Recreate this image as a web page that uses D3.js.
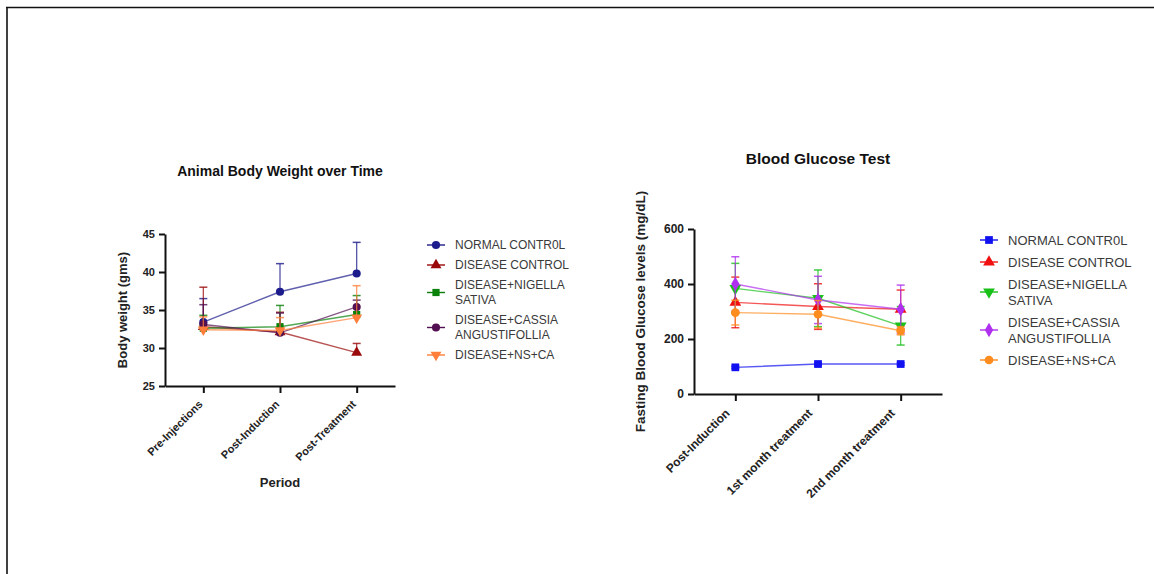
<!DOCTYPE html>
<html>
<head>
<meta charset="utf-8">
<script src="https://cdn.jsdelivr.net/npm/d3@7"></script>
<style>
  body { margin: 0; background: #fff; }
  svg text { font-family: Arial, "Liberation Sans", sans-serif; }
  .tick text { font-weight: bold; fill: #222; }
  .axis path, .axis line { stroke: #111; stroke-width: 2; }
  .legendText { fill: #3a3a3a; }
</style>
</head>
<body>
<svg id="chart" width="1154" height="574"></svg>
<script>
// ---- data ----
var groupNames = ["NORMAL CONTR0L", "DISEASE CONTROL", "DISEASE+NIGELLA SATIVA",
                  "DISEASE+CASSIA ANGUSTIFOLLIA", "DISEASE+NS+CA"];

// body weight chart
var bwPeriods = ["Pre-Injections", "Post-Induction", "Post-Treatment"];
var bwTicks = [25, 30, 35, 40, 45];
var bwMeans = [
  [33.4, 37.4, 39.8],
  [32.8, 32.1, 29.4],
  [32.6, 32.8, 34.4],
  [33.1, 32.0, 35.4],
  [32.4, 32.3, 34.0]
];
var bwErrors = [
  [3.1, 3.7, 4.1],
  [5.2, 2.6, 1.2],
  [1.7, 2.8, 2.5],
  [2.6, 2.6, 0.9],
  [1.7, 1.7, 4.2]
];

// blood glucose chart
var bgPeriods = ["Post-Induction", "1st month treatment", "2nd month treatment"];
var bgTicks = [0, 200, 400, 600];
var bgMeans = [
  [97, 109, 109],
  [333, 318, 308],
  [384, 348, 248],
  [400, 342, 308],
  [296, 290, 230]
];
var bgErrors = [
  [4, 4, 4],
  [92, 83, 70],
  [91, 103, 70],
  [99, 86, 88],
  [45, 50, 15]
];

// ---- styles ----
var bwColors = ["#1c1c8c", "#9b0a0a", "#0a820a", "#521052", "#ff7f3a"];
var bwShapes = ["circle", "triangle", "square", "circle", "down"];
var bgColors = ["#1010f0", "#f01010", "#18c018", "#b030f0", "#ff8c1e"];
var bgShapes = ["square", "triangle", "down", "diamond", "circle"];

var svg = d3.select("#chart");

// page border like the original screenshot
svg.append("line").attr("x1", 6).attr("x2", 1154).attr("y1", 7.5).attr("y2", 7.5)
  .attr("stroke", "#111").attr("stroke-width", 1.6);
svg.append("line").attr("x1", 7).attr("x2", 7).attr("y1", 7).attr("y2", 574)
  .attr("stroke", "#111").attr("stroke-width", 1.6);

function symbolPath(shape, size) {
  var type = d3.symbolCircle;
  if (shape == "square") type = d3.symbolSquare;
  else if (shape == "triangle" || shape == "down") type = d3.symbolTriangle;
  else if (shape == "diamond") type = d3.symbolDiamond;
  return d3.symbol().type(type).size(size)();
}

function drawMarker(g, shape, color, x, y, size) {
  g.append("path")
    .attr("d", symbolPath(shape, size))
    .attr("transform", "translate(" + x + "," + y + ")" + (shape == "down" ? " rotate(180)" : ""))
    .attr("fill", color);
}

// measure text so long names break into two lines like the legend does
function wrapLines(label, maxWidth, fontSize) {
  var probe = svg.append("text").style("font-size", fontSize + "px");
  var words = label.split(" ");
  var lines = [], cur = "";
  words.forEach(function(w) {
    var test = cur ? cur + " " + w : w;
    probe.text(test);
    if (probe.node().getComputedTextLength() > maxWidth && cur) {
      lines.push(cur);
      cur = w;
    } else {
      cur = test;
    }
  });
  lines.push(cur);
  probe.remove();
  return lines;
}

/**
 * Draws one line chart with error bars, axes, title and legend
 */
function drawChart(opt) {
  var g = svg.append("g");

  var x = d3.scalePoint().domain(opt.periods).range([opt.left, opt.right]).padding(0.5);
  var y = d3.scaleLinear().domain([opt.ticks[0], opt.ticks[opt.ticks.length - 1]])
    .range([opt.bottom, opt.top]);

  // axes
  var yAxis = g.append("g").attr("class", "axis")
    .attr("transform", "translate(" + opt.left + ",0)")
    .call(d3.axisLeft(y).tickValues(opt.ticks).tickSize(6).tickSizeOuter(0).tickPadding(4));
  yAxis.selectAll("text").style("font-size", opt.tickFont + "px");

  var xAxis = g.append("g").attr("class", "axis")
    .attr("transform", "translate(0," + opt.bottom + ")")
    .call(d3.axisBottom(x).tickSize(7).tickSizeOuter(0));
  xAxis.selectAll("text").remove();

  // rotated category labels
  g.selectAll(".xlab")
    .data(opt.periods)
    .enter()
    .append("text")
    .attr("class", "xlab")
    .attr("text-anchor", "end")
    .attr("transform", function(d) {
      return "translate(" + (x(d) + opt.labDx) + "," + (opt.bottom + opt.labDy) + ") rotate(-45)";
    })
    .style("font-size", opt.tickFont + "px")
    .style("font-weight", "bold")
    .attr("fill", "#222")
    .text(function(d) { return d; });

  // series
  opt.means.forEach(function(vals, i) {
    var color = opt.colors[i];
    var sg = g.append("g");
    // error bars
    vals.forEach(function(v, j) {
      var cx = x(opt.periods[j]);
      var hi = v + opt.errors[i][j];
      var lo = opt.bothSides ? v - opt.errors[i][j] : v;
      sg.append("line").attr("x1", cx).attr("x2", cx).attr("y1", y(lo)).attr("y2", y(hi))
        .attr("stroke", color).attr("stroke-width", 1.3).attr("opacity", 0.75);
      sg.append("line").attr("x1", cx - 4).attr("x2", cx + 4).attr("y1", y(hi)).attr("y2", y(hi))
        .attr("stroke", color).attr("stroke-width", 1.5).attr("opacity", 0.8);
      if (opt.bothSides) {
        sg.append("line").attr("x1", cx - 4).attr("x2", cx + 4).attr("y1", y(lo)).attr("y2", y(lo))
          .attr("stroke", color).attr("stroke-width", 1.5).attr("opacity", 0.8);
      }
    });
    // line
    var line = d3.line()
      .x(function(d, j) { return x(opt.periods[j]); })
      .y(function(d) { return y(d); });
    sg.append("path").datum(vals).attr("d", line)
      .attr("fill", "none").attr("stroke", color).attr("stroke-width", 1.4).attr("opacity", 0.7);
    vals.forEach(function(v, j) {
      drawMarker(sg, opt.shapes[i], color, x(opt.periods[j]), y(v), opt.markerSize);
    });
  });

  // title
  g.append("text")
    .attr("x", (opt.left + opt.right) / 2)
    .attr("y", opt.titleY)
    .attr("text-anchor", "middle")
    .style("font-size", opt.titleFont + "px")
    .style("font-weight", "bold")
    .attr("fill", "#111")
    .text(opt.title);

  // y axis title
  g.append("text")
    .attr("transform", "translate(" + opt.yLabelX + "," + ((opt.top + opt.bottom) / 2) + ") rotate(-90)")
    .attr("text-anchor", "middle")
    .attr("dy", "0.35em")
    .style("font-size", opt.labelFont + "px")
    .style("font-weight", "bold")
    .attr("fill", "#222")
    .text(opt.yLabel);

  if (opt.xLabel) {
    g.append("text")
      .attr("x", (opt.left + opt.right) / 2)
      .attr("y", opt.xLabelY)
      .attr("text-anchor", "middle")
      .style("font-size", opt.labelFont + "px")
      .style("font-weight", "bold")
      .attr("fill", "#222")
      .text(opt.xLabel);
  }

  // legend
  var ly = opt.legendY;
  groupNames.forEach(function(name, i) {
    var lines = wrapLines(name, opt.legendWrap, opt.legendFont);
    var midY = ly + (lines.length - 1) * opt.legendLH / 2;
    var lg = g.append("g");
    lg.append("line")
      .attr("x1", opt.legendX).attr("x2", opt.legendX + 18)
      .attr("y1", midY).attr("y2", midY)
      .attr("stroke", opt.colors[i]).attr("stroke-width", 1.4);
    drawMarker(lg, opt.shapes[i], opt.colors[i], opt.legendX + 9, midY, opt.markerSize);
    lines.forEach(function(t, k) {
      lg.append("text")
        .attr("class", "legendText")
        .attr("x", opt.legendX + 28)
        .attr("y", ly + k * opt.legendLH)
        .attr("dy", "0.35em")
        .style("font-size", opt.legendFont + "px")
        .text(t);
    });
    ly += lines.length * opt.legendLH + opt.legendGap;
  });
}

drawChart({
  periods: bwPeriods, ticks: bwTicks, means: bwMeans, errors: bwErrors,
  colors: bwColors, shapes: bwShapes, bothSides: false,
  left: 165, right: 395, top: 234, bottom: 386,
  tickFont: 11, titleFont: 14, labelFont: 13, markerSize: 52,
  labDx: 0, labDy: 19,
  title: "Animal Body Weight over Time", titleY: 176,
  yLabel: "Body weight (gms)", yLabelX: 122,
  xLabel: "Period", xLabelY: 487,
  legendX: 427, legendY: 245, legendLH: 15, legendGap: 5, legendFont: 12, legendWrap: 125
});

drawChart({
  periods: bgPeriods, ticks: bgTicks, means: bgMeans, errors: bgErrors,
  colors: bgColors, shapes: bgShapes, bothSides: true,
  left: 694, right: 942, top: 229, bottom: 394,
  tickFont: 12, titleFont: 15.5, labelFont: 13.5, markerSize: 60,
  labDx: -5, labDy: 20,
  title: "Blood Glucose Test", titleY: 164,
  yLabel: "Fasting Blood Glucose levels (mg/dL)", yLabelX: 640,
  xLabel: null,
  legendX: 980, legendY: 240, legendLH: 16, legendGap: 6, legendFont: 13, legendWrap: 135
});
</script>
</body>
</html>
